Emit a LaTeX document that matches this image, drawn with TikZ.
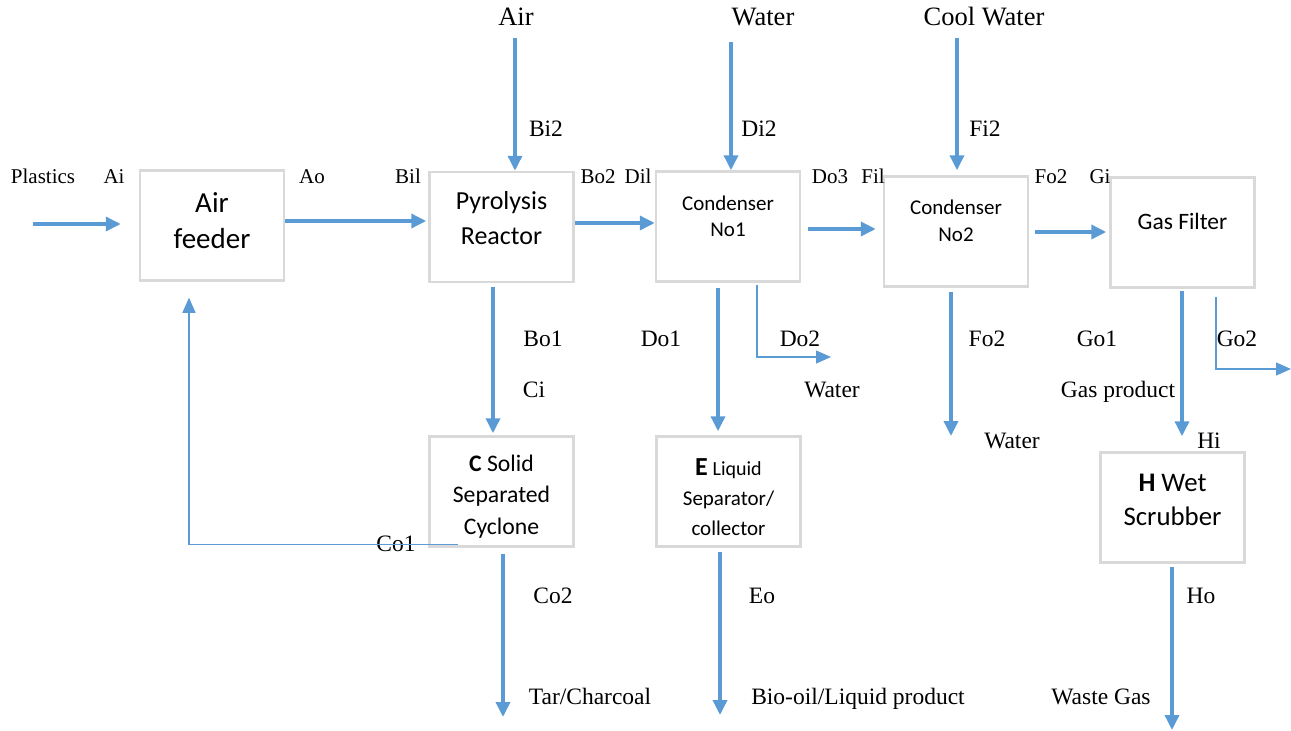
\documentclass[tikz,border=0pt]{standalone}
\usepackage{fontspec}
\setmainfont{Liberation Serif}
\newfontfamily\boxfont{Carlito}
\usepackage{xcolor}
\usepackage{tikz}
\usetikzlibrary{arrows.meta}
\definecolor{flowblue}{HTML}{5B9BD5}
\newcommand{\unittext}[2]{\raisebox{#1}[0pt][0pt]{\begin{tabular}{@{}c@{}}#2\end{tabular}}}

\tikzset{
    box/.style={draw=black!15, line width=2.5pt, minimum width=144pt, minimum height=110pt, align=center, inner sep=0pt},
    flow/.style={draw=flowblue, line width=3.5pt, -{Triangle[length=15pt,width=14pt]}},
    thinflow/.style={draw=flowblue, line width=1.3pt, -{Triangle[length=15pt,width=13pt]}},
    portlbl/.style={anchor=base, inner sep=0pt, font=\fontsize{21}{25}\selectfont},
    lbl/.style={anchor=base, inner sep=0pt, font=\fontsize{23.5}{28}\selectfont},
    toplbl/.style={anchor=base, inner sep=0pt, font=\fontsize{26.5}{31}\selectfont}
}

\begin{document}
\begin{tikzpicture}[x=1pt, y=-1pt]
\useasboundingbox (0,0) rectangle (1291,731);
% units
\node[box, font=\boxfont\fontsize{29}{36}\selectfont] (feeder) at (212,225.5) {\unittext{-3.75pt}{Air\\feeder}};
\node[box, font=\boxfont\fontsize{26}{35}\selectfont] (reactor) at (501.5,227) {\unittext{0.5pt}{Pyrolysis\\Reactor}};
\node[box, font=\boxfont\fontsize{21}{26}\selectfont] (cond1) at (728,226.5) {\unittext{3.25pt}{Condenser\\No1}};
\node[box, font=\boxfont\fontsize{21}{27}\selectfont] (cond2) at (956,231.5) {\unittext{3.25pt}{Condenser\\No2}};
\node[box, font=\boxfont\fontsize{23.5}{28}\selectfont] (filter) at (1182.5,232.5) {\raisebox{3.3pt}[0pt][0pt]{Gas Filter}};
\node[box, font=\boxfont\fontsize{23.7}{31.5}\selectfont] (cyclone) at (501.5,491.5) {\unittext{-11.4pt}{\textbf{C} Solid\\Separated\\Cyclone}};
\node[box, font=\boxfont\fontsize{21}{30}\selectfont] (separator) at (728.5,491.5) {\unittext{-13.25pt}{{\fontsize{26}{30}\selectfont\textbf{E}} {\fontsize{20}{30}\selectfont Liquid}\\Separator/\\collector}};
\node[box, font=\boxfont\fontsize{26.8}{34}\selectfont] (scrubber) at (1172.5,507.5) {\unittext{-0.7pt}{\textbf{H} Wet\\Scrubber}};

% stream labels
\foreach \n/\x/\y/\t in {lPlastics/43/183/Plastics, lAi/114/183/Ai, lAo/312/183/Ao, lBil/408/183/Bil,
    lBo2/598/183/Bo2, lDil/638/183/Dil, lDo3/830/183/Do3, lFil/873/183/Fil, lFo2/1051/183/Fo2, lGi/1100/183/Gi} {
    \node[portlbl] (\n) at (\x,\y) {\t};
}
\foreach \n/\x/\y/\t in {lAir/516/25/Air, lWaterIn/763/25/Water, lCool/984/25/Cool Water} {
    \node[toplbl] (\n) at (\x,\y) {\t};
}
\foreach \n/\x/\y/\t in {lBi2/546/136/Bi2, lDi2/759/136/Di2, lFi2/985/136/Fi2,
    lBo1/543/346/Bo1, lDo1/661/346/Do1, lDo2/800/346/Do2, lFo2b/987/346/Fo2, lGo1/1097/346/Go1, lGo2/1237/346/Go2,
    lCi/534/397/Ci, lWaterA/832/397/Water, lGas/1118/397/Gas product,
    lWaterB/1012/448/Water, lHi/1209/448/Hi, lCo1/396/551/Co1,
    lCo2/553/603/Co2, lEo/762/603/Eo, lHo/1201/603/Ho,
    lTar/590/704/{Tar/Charcoal}, lBio/858/704/{Bio-oil/Liquid product}, lWaste/1101/704/Waste Gas} {
    \node[lbl] (\n) at (\x,\y) {\t};
}

% main line
\coordinate (plasticsIn) at (33,224);
\draw[flow, shorten >=18pt] (plasticsIn) -- (plasticsIn -| feeder.west);
\draw[flow, shorten >=2pt] ([yshift=4.5pt]feeder.east) -- ([yshift=4.5pt]feeder.east -| reactor.west);
\coordinate (airIn) at (515,38);
\draw[flow] (airIn) -- (airIn |- reactor.north);
\draw[flow] ([yshift=4pt]reactor.east) -- ([yshift=4pt]reactor.east -| cond1.west);
\coordinate (waterIn) at (731,42);
\draw[flow] (waterIn) -- (waterIn |- cond1.north);
\draw[flow, shorten <=7pt, shorten >=7pt] ([yshift=-2.5pt]cond1.east) -- ([yshift=-2.5pt]cond1.east -| cond2.west);
\coordinate (coolIn) at (957,38);
\draw[flow, shorten >=5pt] (coolIn) -- (coolIn |- cond2.north);
\draw[flow, shorten <=6pt, shorten >=3pt] ([yshift=-0.5pt]cond2.east) -- ([yshift=-0.5pt]cond2.east -| filter.west);

% side streams
\draw[flow, shorten <=4pt, shorten >=2pt] ([xshift=-8.5pt]reactor.south) -- ([xshift=-8.5pt]cyclone.north);
\draw[flow, shorten <=5pt, shorten >=4pt] ([xshift=-10pt]cond1.south) -- ([xshift=-10pt]cond1.south |- separator.north);
\coordinate (do2Out) at (831,357);
\draw[thinflow, shorten <=2pt] ([xshift=29pt]cond1.south) |- (do2Out);
\coordinate (fo2Out) at (951,436);
\draw[flow, shorten <=4pt] ([xshift=-5pt]cond2.south) -- (fo2Out);
\draw[flow, shorten <=2pt, shorten >=15pt] ([xshift=-0.5pt]filter.south) -- ([xshift=-0.5pt]filter.south |- scrubber.north);
\coordinate (go2Out) at (1291,369);
\draw[thinflow, shorten <=8pt] ([xshift=33.5pt]filter.south) |- (go2Out);

% recycle and products
\draw[thinflow, shorten >=16pt] ([xshift=-43.5pt,yshift=3pt]cyclone.south) -| ([xshift=-23pt]feeder.south);
\coordinate (co2Out) at (503,717);
\draw[flow, shorten <=6pt] ([xshift=1.5pt]cyclone.south) -- (co2Out);
\coordinate (eoOut) at (720,715);
\draw[flow, shorten <=4pt] ([xshift=-8.5pt]separator.south) -- (eoOut);
\coordinate (hoOut) at (1172,730);
\draw[flow, shorten <=3pt] ([xshift=-0.5pt]scrubber.south) -- (hoOut);
\end{tikzpicture}
\end{document}
